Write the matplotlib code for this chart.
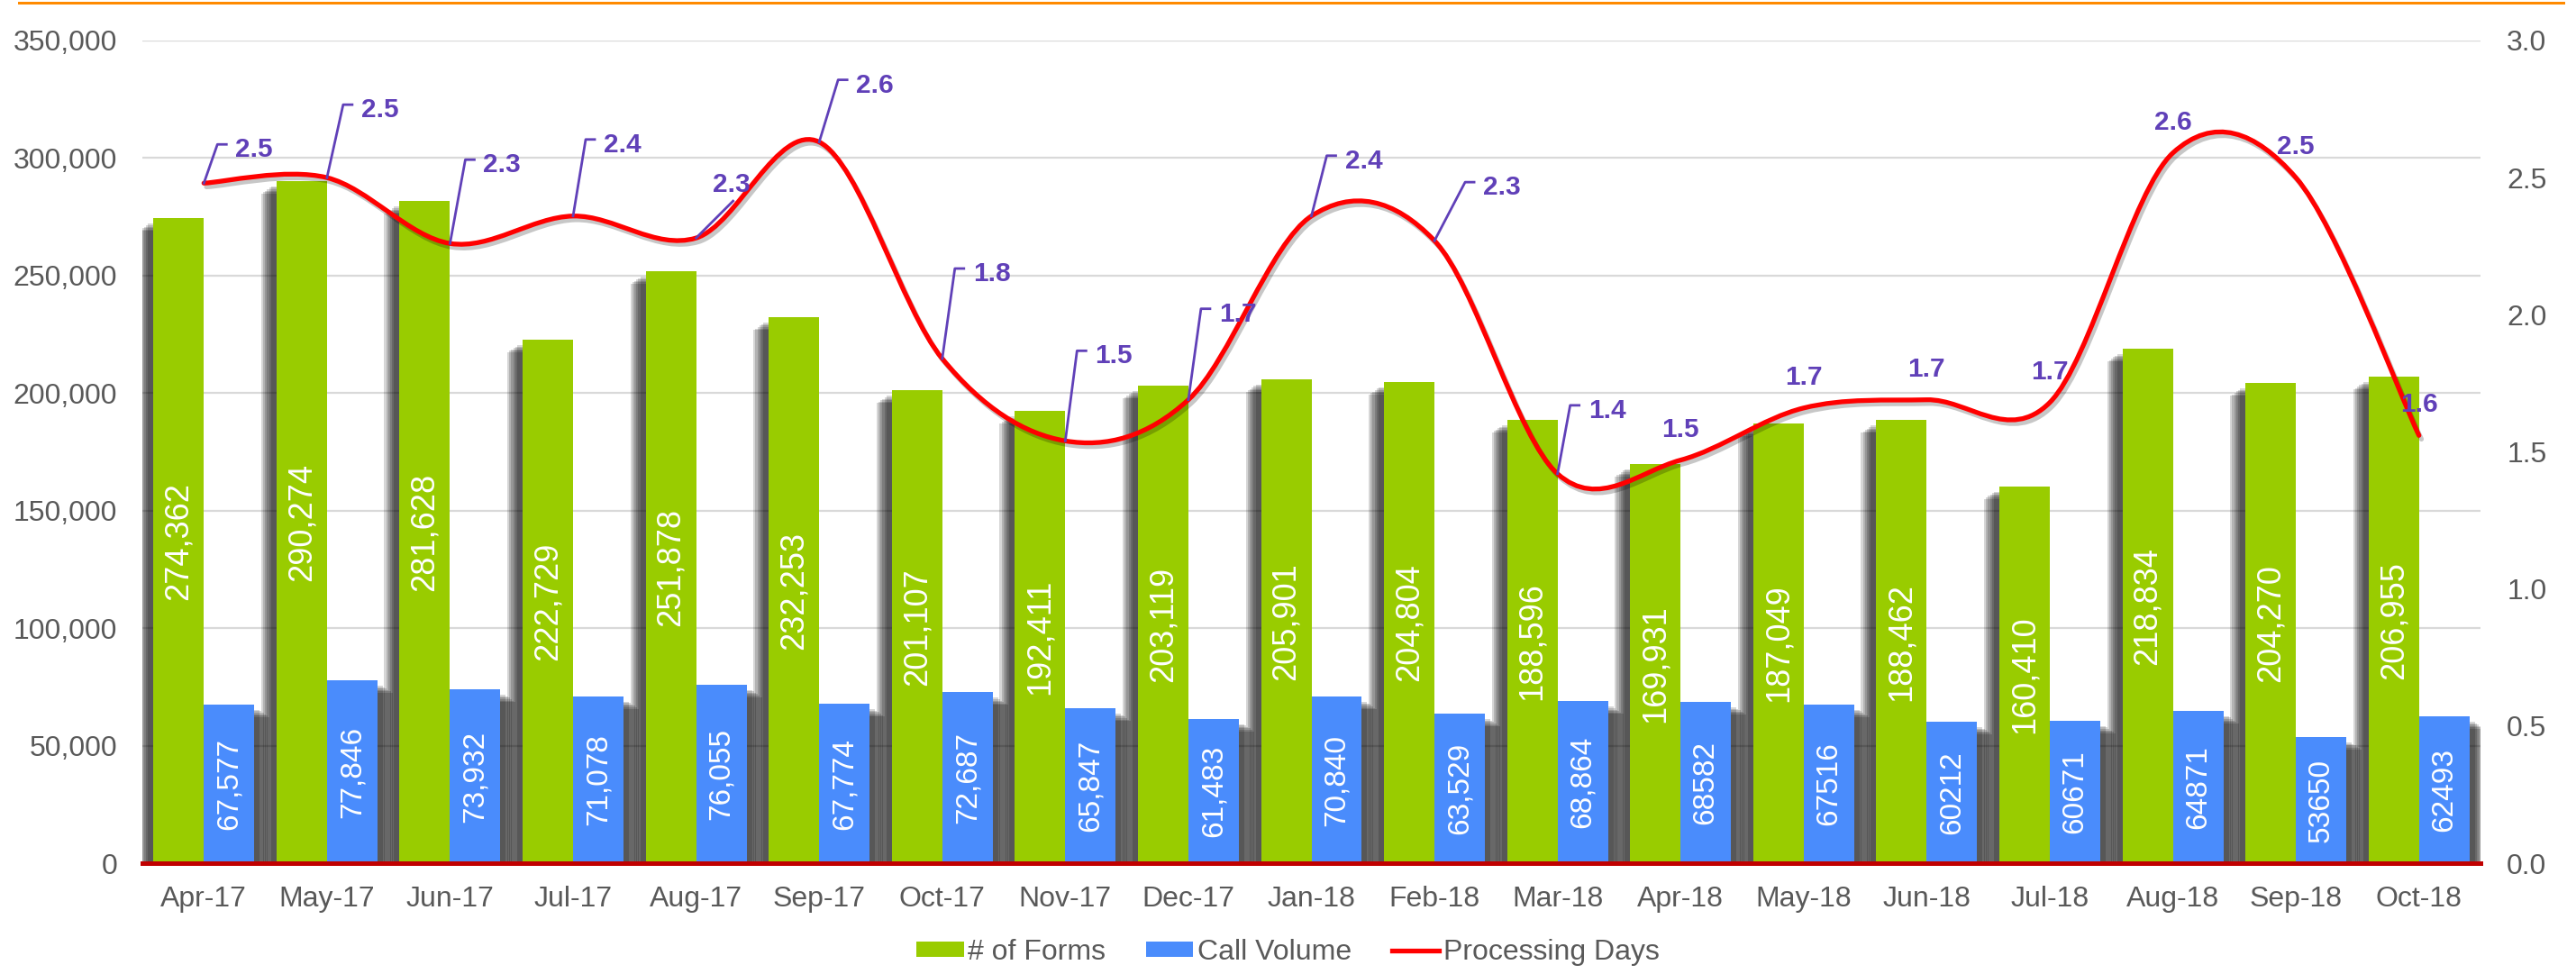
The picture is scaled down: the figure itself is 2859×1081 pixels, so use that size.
import matplotlib
matplotlib.use("Agg")
import matplotlib.pyplot as plt
import matplotlib.patheffects as pe
from matplotlib.path import Path
from matplotlib.patches import PathPatch, Patch
from matplotlib.lines import Line2D
from matplotlib.ticker import FuncFormatter, MultipleLocator
from matplotlib.transforms import IdentityTransform

plt.rcParams['font.family'] = ['Liberation Sans', 'DejaVu Sans']

months = ['Apr-17', 'May-17', 'Jun-17', 'Jul-17', 'Aug-17', 'Sep-17', 'Oct-17',
          'Nov-17', 'Dec-17', 'Jan-18', 'Feb-18', 'Mar-18', 'Apr-18', 'May-18',
          'Jun-18', 'Jul-18', 'Aug-18', 'Sep-18', 'Oct-18']
forms = [274362, 290274, 281628, 222729, 251878, 232253, 201107, 192411, 203119,
         205901, 204804, 188596, 169931, 187049, 188462, 160410, 218834, 204270, 206955]
calls = [67577, 77846, 73932, 71078, 76055, 67774, 72687, 65847, 61483, 70840,
         63529, 68864, 68582, 67516, 60212, 60671, 64871, 53650, 62493]
days = [2.48, 2.50, 2.26, 2.36, 2.28, 2.63, 1.84, 1.54, 1.69, 2.36, 2.27, 1.42,
        1.47, 1.66, 1.69, 1.68, 2.59, 2.50, 1.56]
# call volume labels lose their thousands separator from Apr-18 on
call_comma = [True] * 12 + [False] * 7

GREEN = '#99cc00'
BLUE = '#4a8cfc'
RED = '#ff0000'
PURPLE = '#6040b8'
GREY = '#595959'
PX = 0.72  # points per pixel at dpi 100

fig = plt.figure(figsize=(28.59, 10.81), dpi=100)
ax = fig.add_axes([158 / 2859, 1 - 958 / 1081, (2753 - 158) / 2859, (958 - 45) / 1081])
ax2 = ax.twinx()
ax2.set_position(ax.get_position())

x = list(range(len(months)))
w = 0.41


def shadow(direction):
    # soft drop shadow made of a few stacked, shifted copies
    eff = []
    for k in range(6):
        eff.append(pe.SimplePatchShadow(offset=(direction * (6 + 2.2 * k) * PX, -(6 + 1.6 * k) * PX),
                                        shadow_rgbFace='black', alpha=0.16))
    eff.append(pe.Normal())
    return eff


gb = ax.bar([i - w / 2 for i in x], forms, w, color=GREEN, zorder=2)
bb = ax.bar([i + w / 2 for i in x], calls, w, color=BLUE, zorder=2)
for p in gb:
    p.set_path_effects(shadow(-1))
for p in bb:
    p.set_path_effects(shadow(1))

for i in x:
    ax.text(i - w / 2, forms[i] / 2, f'{forms[i]:,}', rotation=90, ha='center', va='center',
            color='white', fontsize=26, zorder=3)
    lab = f'{calls[i]:,}' if call_comma[i] else f'{calls[i]}'
    ax.text(i + w / 2, calls[i] / 2, lab, rotation=90, ha='center', va='center',
            color='white', fontsize=24, zorder=3)

ax.set_xlim(-0.5, len(months) - 0.5)
ax.set_ylim(0, 350000)
ax.yaxis.set_major_locator(MultipleLocator(50000))
ax.yaxis.set_major_formatter(FuncFormatter(lambda v, p: f'{int(v):,}'))
ax.grid(axis='y', color='#d9d9d9', lw=1.6, zorder=0)
ax.set_axisbelow(True)
ax.set_xticks(x)
ax.set_xticklabels(months)
ax.tick_params(axis='x', length=0, pad=18, labelsize=23, labelcolor=GREY)
ax.tick_params(axis='y', length=0, pad=20, labelsize=23, labelcolor=GREY)
for s in ['left', 'right', 'top']:
    ax.spines[s].set_visible(False)
ax.spines['bottom'].set_color('#c00000')
ax.spines['bottom'].set_linewidth(3.6)
ax.spines['bottom'].set_zorder(5)

ax2.set_ylim(0, 3.0)
ax2.yaxis.set_major_locator(MultipleLocator(0.5))
ax2.yaxis.set_major_formatter(FuncFormatter(lambda v, p: f'{v:.1f}'))
ax2.tick_params(axis='y', length=0, pad=21, labelsize=23, labelcolor=GREY)
for s in ax2.spines.values():
    s.set_visible(False)

# smoothed line (Excel style bezier through the data points)
n = len(days)
verts = [(0, days[0])]
codes = [Path.MOVETO]
for i in range(n - 1):
    p0 = days[max(i - 1, 0)]
    p1 = days[i]
    p2 = days[i + 1]
    p3 = days[min(i + 2, n - 1)]
    x0 = max(i - 1, 0)
    x3 = min(i + 2, n - 1)
    c1 = (i + (i + 1 - x0) / 6, p1 + (p2 - p0) / 6)
    c2 = (i + 1 - (x3 - i) / 6, p2 - (p3 - p1) / 6)
    verts += [c1, c2, (i + 1, p2)]
    codes += [Path.CURVE4] * 3
curve = PathPatch(Path(verts, codes), fill=False, edgecolor=RED, lw=3.8, zorder=4,
                  capstyle='round', joinstyle='round')
curve.set_path_effects([pe.SimpleLineShadow(offset=(2, -3), shadow_color='black', alpha=0.22),
                        pe.Normal()])
ax2.add_patch(curve)

# label leaders: (dx, dy) in pixels from the point, tick = short horizontal bar at the top
leaders = [(15, 43, True), (18, 81, True), (17, 93, True), (14, 85, True), (41, 41, False),
           (21, 69, True), (14, 100, True), (13, 100, True), (14, 101, True), (17, 67, True),
           (34, 65, True), (14, 76, True), None, None, None, None, None, None, None]

for i, v in enumerate(days):
    px, py = ax2.transData.transform((i, v))
    ld = leaders[i]
    txt = f'{v:.1f}'
    kw = dict(color=PURPLE, fontsize=21.5, fontweight='bold', textcoords='offset pixels',
              va='baseline', zorder=6)
    if ld is None:
        ax2.annotate(txt, xy=(i, v), xytext=(0, 37 - 11), ha='center', **kw)
        continue
    dx, dy, tick = ld
    xs = [px, px + dx]
    ys = [py, py + dy]
    if tick:
        xs.append(px + dx + 10)
        ys.append(py + dy)
        ax2.annotate(txt, xy=(i, v), xytext=(dx + 20, dy - 3 - 11), ha='left', **kw)
    else:
        ax2.annotate(txt, xy=(i, v), xytext=(dx - 2, dy + 21 - 11), ha='center', **kw)
    ax2.add_line(Line2D(xs, ys, color=PURPLE, lw=2.0, transform=IdentityTransform(), zorder=5))

handles = [Patch(facecolor=GREEN), Patch(facecolor=BLUE), Line2D([], [], color=RED, lw=3.8)]
fig.legend(handles, ['# of Forms', 'Call Volume', 'Processing Days'], loc='center',
           bbox_to_anchor=(0.5, 1 - 1057 / 1081), ncol=3, frameon=False, fontsize=23,
           labelcolor=GREY, handlelength=1.63, handleheight=0.47, handletextpad=0.15,
           columnspacing=1.4)

fig.add_artist(Line2D([21 / 2859, 2845 / 2859], [1 - 2.5 / 1081] * 2, color='#ff8a00',
                      lw=3 * PX, transform=fig.transFigure))

fig.savefig('out.png', dpi=100)
